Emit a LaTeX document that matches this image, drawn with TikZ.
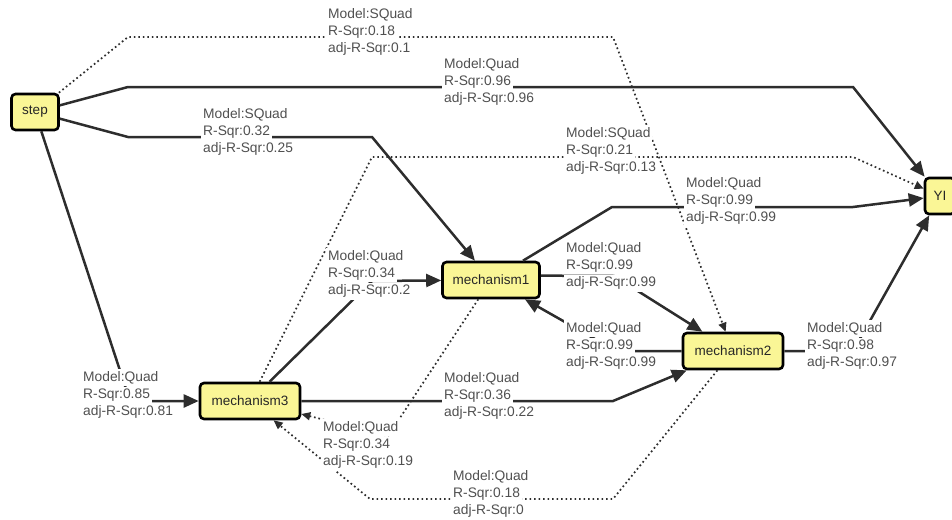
\documentclass[tikz,border=0pt]{standalone}
\usepackage{fontspec}
\setmainfont{Liberation Sans}
\usetikzlibrary{arrows.meta}
\definecolor{BoxFill}{RGB}{250,246,150}
\definecolor{EdgeClr}{RGB}{45,45,45}
\definecolor{LabClr}{RGB}{80,80,80}
\setlength{\fboxsep}{1.9pt}
\newcommand{\fitstat}[3]{\colorbox{white}{Model:#1}\\\colorbox{white}{R-Sqr:#2}\\\colorbox{white}{adj-R-Sqr:#3}}

\begin{document}
\begin{tikzpicture}[x=1pt,y=-1pt,
  box/.style={draw=black,fill=BoxFill,line width=2.6pt,rounded corners=4pt,
    minimum height=36pt,inner sep=2pt,text=black!85,font=\fontsize{13.5}{15}\selectfont},
  strong/.style={draw=EdgeClr,line width=2.5pt,-{Triangle[length=15pt,width=13pt]}},
  weak/.style={draw=EdgeClr,line width=1.7pt,dash pattern=on 1.7pt off 2.8pt,
    -{Triangle[length=9pt,width=8pt]}},
  stat/.style={anchor=west,align=left,inner sep=0pt,xshift=-1.9pt,text=LabClr,
    font=\fontsize{13.8}{15.6}\selectfont}]
\useasboundingbox (0,0) rectangle (952,519);

\node[box,minimum width=47pt] (step) at (35,112) {step};
\node[box,minimum width=97pt] (mechanism1) at (491,280) {mechanism1};
\node[box,minimum width=100pt] (mechanism2) at (733,351) {mechanism2};
\node[box,minimum width=100pt] (mechanism3) at (250,401) {mechanism3};
\node[box,minimum width=30pt] (YI) at (940,196) {YI};

\draw[weak] (step) -- (128,37) -- (613,37) -- (mechanism2);
\draw[strong] (step) -- (128,87) -- (853,87) -- (YI);
\draw[strong] (step) -- (128,137) -- (372,137) -- (mechanism1);
\draw[strong] (step) -- (130,401) -- (mechanism3);
\draw[strong] (mechanism3) -- (372,281) -- (mechanism1);
\draw[weak] (mechanism3) -- (372,157) -- (853,157) -- (YI);
\draw[strong] (mechanism1) -- (612,207) -- (853,207) -- (YI);
\draw[strong] (mechanism1.5) -- (614,276) -- (mechanism2);
\draw[strong] (mechanism2) -- (616,351) -- (mechanism1);
\draw[strong] (mechanism3) -- (613,401) -- (mechanism2);
\draw[weak] (mechanism1) -- (388,436) -- (mechanism3);
\draw[weak] (mechanism2) -- (613,499) -- (370,499) -- (mechanism3);
\draw[strong] (mechanism2) -- (853,351) -- (YI);

\node[stat] (lab1) at (328,32) {\fitstat{SQuad}{0.18}{0.1}};
\node[stat] (lab2) at (444,82) {\fitstat{Quad}{0.96}{0.96}};
\node[stat] (lab3) at (203,132) {\fitstat{SQuad}{0.32}{0.25}};
\node[stat] (lab4) at (83,395) {\fitstat{Quad}{0.85}{0.81}};
\node[stat] (lab5) at (328,274) {\fitstat{Quad}{0.34}{0.2}};
\node[stat] (lab6) at (566,151) {\fitstat{SQuad}{0.21}{0.13}};
\node[stat] (lab7) at (686,201) {\fitstat{Quad}{0.99}{0.99}};
\node[stat] (lab8) at (566,266) {\fitstat{Quad}{0.99}{0.99}};
\node[stat] (lab9) at (566,346) {\fitstat{Quad}{0.99}{0.99}};
\node[stat] (lab10) at (444,396) {\fitstat{Quad}{0.36}{0.22}};
\node[stat] (lab11) at (323,445) {\fitstat{Quad}{0.34}{0.19}};
\node[stat] (lab12) at (453,494) {\fitstat{Quad}{0.18}{0}};
\node[stat] (lab13) at (807,346) {\fitstat{Quad}{0.98}{0.97}};

\end{tikzpicture}
\end{document}
